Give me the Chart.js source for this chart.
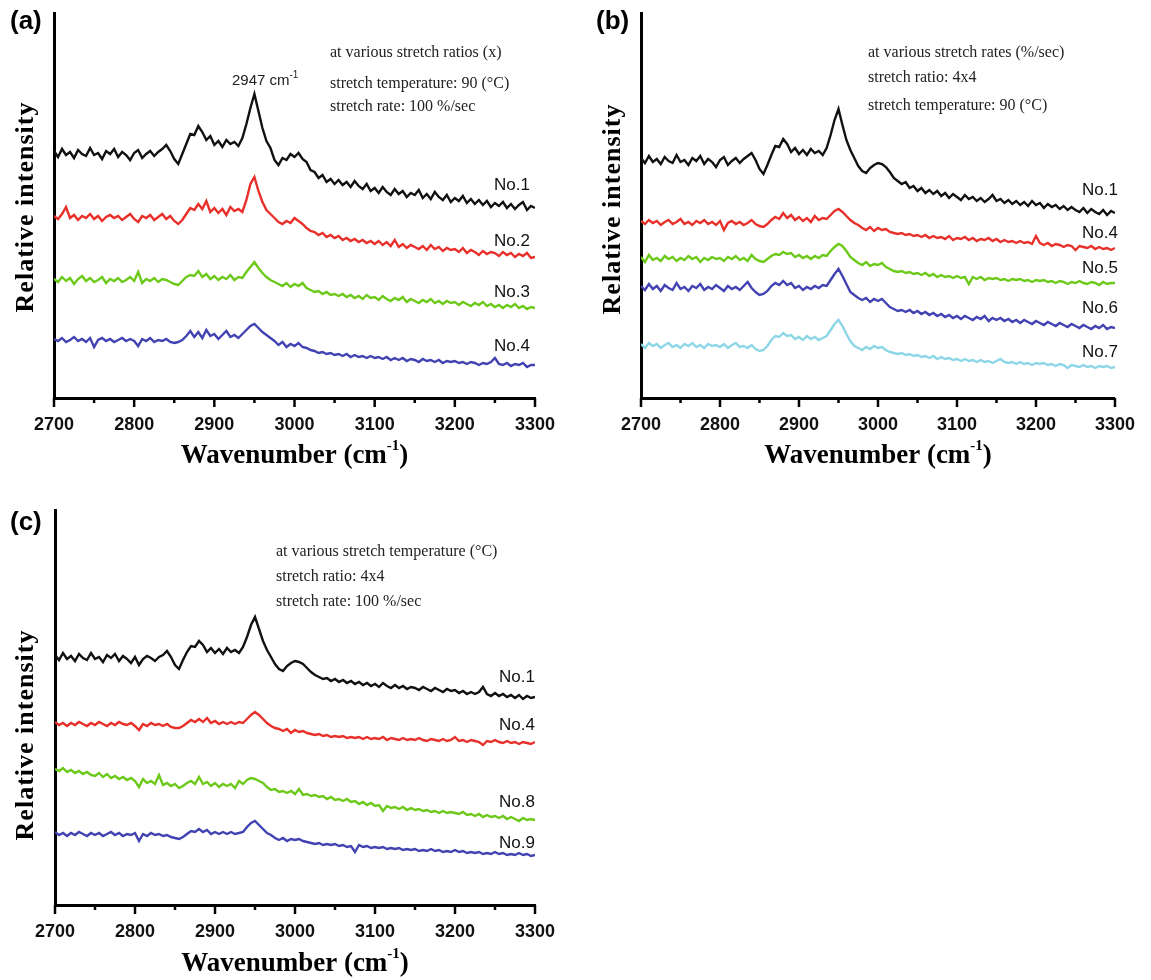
<!DOCTYPE html>
<html>
<head>
<meta charset="utf-8">
<title>Raman spectra at various stretch conditions</title>
<script src="https://cdn.jsdelivr.net/npm/chart.js@4.4.1/dist/chart.umd.min.js"></script>
<style>
  body { margin: 0; background: #fff; }
  .wrap { position: relative; width: 1151px; height: 980px; }
  canvas { position: absolute; }
  #chartA { left: 0; top: 0; }
  #chartB { left: 580px; top: 0; }
  #chartC { left: 0; top: 490px; }
</style>
</head>
<body>
<div class="wrap">
  <canvas id="chartA" width="575" height="480"></canvas>
  <canvas id="chartB" width="571" height="480"></canvas>
  <canvas id="chartC" width="575" height="490"></canvas>
</div>
<script>
// wavenumber grid (cm-1)
const wavenumbers = [
  2700,2705,2710,2715,2720,2725,2730,2735,2740,2745,
  2750,2755,2760,2765,2770,2775,2780,2785,2790,2795,
  2800,2805,2810,2815,2820,2825,2830,2835,2840,2845,
  2850,2855,2860,2865,2870,2875,2880,2885,2890,2895,
  2900,2905,2910,2915,2920,2925,2930,2935,2940,2945,
  2950,2955,2960,2965,2970,2975,2980,2985,2990,2995,
  3000,3005,3010,3015,3020,3025,3030,3035,3040,3045,
  3050,3055,3060,3065,3070,3075,3080,3085,3090,3095,
  3100,3105,3110,3115,3120,3125,3130,3135,3140,3145,
  3150,3155,3160,3165,3170,3175,3180,3185,3190,3195,
  3200,3205,3210,3215,3220,3225,3230,3235,3240,3245,
  3250,3255,3260,3265,3270,3275,3280,3285,3290,3295,
  3300
];
const xTicks = { min: 2700, max: 3300, step: 50 };

// (a) various stretch ratios, offset intensities
const aNo1 = [
  247,241,249,243,246,240,248,244,242,250, 243,245,239,247,244,249,241,246,243,238,
  245,248,240,244,247,242,246,249,253,247, 239,234,244,254,264,263,272,266,258,262,
  253,257,251,258,254,256,252,260,274,290, 304,287,270,257,250,238,233,240,238,244,
  241,245,239,236,228,226,220,223,216,219, 214,218,213,216,211,217,212,209,214,207,
  210,205,211,206,203,209,204,207,201,205, 203,208,200,204,199,206,201,198,203,196,
  200,197,202,195,199,194,198,193,197,191, 195,192,196,190,194,189,193,196,188,192,
  190];
const aNo2 = [
  182,179,184,191,180,183,178,182,180,184, 179,182,177,181,183,180,182,178,181,184,
  179,176,182,180,183,178,181,184,179,182, 177,174,178,184,190,188,194,189,197,186,
  190,185,189,183,191,187,189,186,198,214, 221,207,196,188,184,180,176,174,177,175,
  180,177,174,170,167,166,163,165,161,163, 160,162,158,160,157,159,156,158,155,157,
  154,157,153,156,152,158,151,154,150,153, 151,149,152,148,153,149,151,147,150,148,
  149,146,150,145,148,146,143,147,144,146, 145,142,146,143,145,141,144,142,145,140,
  141];
const aNo3 = [
  119,116,121,117,120,114,119,122,117,120, 116,118,121,115,119,117,120,116,118,121,
  117,126,115,119,117,120,116,119,118,116, 114,113,117,121,123,122,127,121,124,119,
  122,118,121,119,123,118,121,120,126,131, 136,130,125,121,118,116,114,112,115,111,
  114,112,115,110,108,106,107,104,106,103, 104,102,104,101,103,100,102,99,103,100,
  101,98,102,99,97,100,98,101,96,99, 97,95,98,96,99,95,97,94,97,95,
  96,93,96,94,92,95,93,96,92,94, 91,93,90,93,91,94,90,92,89,91,
  90];
const aNo4 = [
  59,57,60,56,58,61,57,59,56,60, 51,58,60,57,59,56,58,60,57,59,
  57,52,59,57,60,56,58,57,59,56, 55,56,58,62,67,61,66,60,68,62,
  64,59,63,67,61,63,60,64,68,72, 74,70,66,63,60,57,53,56,51,54,
  52,55,51,50,48,47,45,46,44,45, 43,44,42,44,41,43,41,42,40,42,
  40,41,39,41,38,40,38,40,37,39, 38,36,39,37,38,36,38,35,37,36,
  37,35,36,34,36,35,33,35,34,36, 40,34,33,35,32,34,33,35,31,33,
  33];

// (b) various stretch rates
const bNo1 = [
  240,235,242,236,239,234,241,237,235,243, 236,238,233,240,237,242,234,239,236,231,
  238,241,233,237,240,235,239,242,245,238, 229,224,233,243,252,251,259,254,246,250,
  244,248,243,249,245,247,243,250,263,278, 289,273,258,248,240,232,227,225,230,233,
  235,234,231,226,220,217,214,216,210,212, 207,210,205,208,204,207,202,205,200,204,
  201,198,203,199,201,197,200,196,199,203, 197,199,195,198,194,197,193,196,192,197,
  193,195,190,194,191,193,189,192,188,191, 188,186,190,185,189,186,184,188,183,187,
  185];
const bNo4 = [
  177,174,178,175,177,173,176,178,174,176, 179,174,176,173,177,175,178,174,176,173,
  177,168,175,177,174,176,173,175,178,174, 172,171,174,178,181,179,185,180,183,178,
  181,177,180,176,182,178,180,179,183,187, 189,186,182,178,175,173,170,168,171,167,
  170,168,169,166,165,164,165,163,164,162, 163,161,163,160,162,160,161,159,162,158,
  160,159,161,158,160,157,159,158,160,157, 159,156,158,156,157,155,157,155,156,154,
  162,155,153,155,152,154,153,151,153,152, 148,152,151,150,152,149,151,149,150,148,
  150];
const bNo5 = [
  141,136,143,138,140,137,142,139,141,137, 140,138,142,139,141,136,140,138,141,139,
  140,137,141,139,142,138,140,137,143,139, 137,136,139,142,144,143,146,144,145,141,
  143,140,142,139,142,140,143,142,147,151, 154,152,147,141,138,135,133,136,132,134,
  133,135,131,129,127,126,127,125,126,124, 125,123,125,122,124,121,123,121,122,120,
  122,120,121,114,121,119,121,118,120,119, 120,118,119,117,119,118,119,117,118,116,
  118,117,118,116,117,115,117,116,114,116, 115,117,115,114,116,115,113,116,114,115,
  115];
const bNo6 = [
  112,108,114,109,112,107,113,110,108,115, 109,111,107,112,110,114,108,111,109,113,
  110,107,112,109,111,108,112,116,110,106, 103,104,107,112,115,113,117,113,115,110,
  112,108,111,109,112,110,113,112,118,124, 129,122,114,106,103,100,98,100,96,99,
  97,99,95,91,89,87,88,86,88,85, 87,84,86,83,85,82,84,81,83,80,
  82,79,82,80,78,81,79,82,77,80, 78,80,77,79,76,78,75,78,76,74,
  77,75,73,76,74,72,75,73,71,74, 72,70,73,71,69,72,70,73,69,71,
  70];
const bNo7 = [
  54,50,55,52,54,50,53,55,51,53, 50,54,52,55,51,53,50,54,52,53,
  51,54,50,53,55,51,52,50,53,49, 47,48,52,58,62,61,65,62,63,59,
  61,58,62,59,61,58,60,62,68,74, 78,72,64,57,52,50,48,51,49,52,
  50,51,48,46,45,44,45,43,44,42, 43,41,42,40,42,39,41,39,40,38,
  39,37,39,37,38,36,38,36,37,35, 37,39,36,35,36,34,36,34,35,33,
  35,34,35,33,34,32,34,33,30,33, 32,31,33,31,32,30,32,31,32,30,
  31];

// (c) various stretch temperatures
const cNo1 = [
  250,245,252,246,249,244,251,247,245,252, 246,248,243,250,247,251,244,249,246,242,
  248,240,246,249,247,244,248,250,254,248, 240,236,245,253,259,258,264,260,253,257,
  252,256,251,257,253,255,252,258,268,280, 288,276,264,255,248,241,236,234,239,242,
  244,243,241,237,233,230,228,226,227,224, 226,223,225,222,224,221,223,220,222,219,
  221,218,222,219,217,220,217,219,216,218, 217,215,218,216,214,217,215,213,216,214,
  215,212,214,211,213,211,213,218,211,209, 212,209,211,208,210,207,210,206,209,207,
  208];
const cNo4 = [
  183,180,182,179,182,180,183,181,179,182, 180,183,181,179,182,180,183,181,180,182,
  179,175,181,179,182,180,181,179,181,178, 177,177,179,182,185,183,186,183,187,182,
  184,181,183,181,183,181,183,182,186,190, 193,190,186,182,179,177,176,174,176,172,
  175,173,174,172,171,170,171,169,170,168, 169,168,169,167,168,167,168,166,168,166,
  167,166,168,165,167,166,165,167,165,166, 165,167,165,164,166,165,164,166,164,165,
  168,164,165,163,165,164,163,160,164,163, 165,163,162,164,162,163,161,163,162,161,
  163];
const cNo8 = [
  136,134,137,133,135,132,134,131,133,130, 129,132,128,131,127,129,126,128,125,127,
  124,118,126,122,124,121,130,120,122,119, 121,117,119,122,124,121,128,121,123,119,
  122,118,121,119,121,117,124,121,125,127, 126,124,122,118,115,116,113,114,112,114,
  111,116,110,111,109,110,108,109,106,108, 105,106,104,106,103,104,101,103,100,102,
  99,100,94,99,97,98,96,98,95,97, 95,96,94,95,93,94,92,94,92,93,
  92,91,93,90,91,89,91,88,90,88, 89,87,89,86,88,86,84,87,85,86,
  85];
const cNo9 = [
  73,70,72,69,72,70,73,71,69,72, 70,72,69,71,73,70,72,69,71,70,
  72,64,71,69,72,70,71,69,70,68, 67,66,68,71,74,73,76,73,75,71,
  73,71,73,71,73,71,72,73,78,82, 84,80,76,72,70,67,65,67,64,66,
  65,66,64,63,62,61,62,60,61,60, 61,59,60,58,59,53,60,58,59,57,
  58,57,58,56,57,56,57,55,56,55, 56,54,55,54,56,54,55,53,54,53,
  55,53,54,52,53,52,53,51,52,51, 53,51,52,50,51,50,52,50,51,49,
  50];

const SANS = '"Liberation Sans", Arial, sans-serif';
const SERIF = '"Liberation Serif", "Times New Roman", serif';
const COLORS = {
  black: '#111111',
  red: '#e8302a',
  green: '#6cc91a',
  blue: '#4242b2',
  cyan: '#8dd6e7'
};

// draws ticks, panel letter, axis titles, notes and curve names
const panelText = {
  id: 'panelText',
  afterDraw(chart, args, o) {
    const ctx = chart.ctx;
    const area = chart.chartArea;
    const xs = chart.scales.x;
    ctx.save();

    // major / minor tick marks on the library's tick values
    ctx.strokeStyle = '#000';
    ctx.lineWidth = 2.5;
    xs.ticks.forEach(t => {
      const px = xs.getPixelForValue(t.value);
      const len = t.value % 100 === 0 ? 9 : 5;
      ctx.beginPath();
      ctx.moveTo(px, area.bottom);
      ctx.lineTo(px, area.bottom + len);
      ctx.stroke();
    });

    ctx.fillStyle = '#000';
    ctx.textBaseline = 'middle';

    ctx.font = 'bold 26px ' + SANS;
    ctx.textAlign = 'left';
    ctx.fillText(o.letter, o.letterX, o.letterY);

    // y title
    ctx.save();
    ctx.translate(o.yTitleX, o.yTitleY);
    ctx.rotate(-Math.PI / 2);
    ctx.font = 'bold 26px ' + SERIF;
    ctx.letterSpacing = '1px';
    ctx.textAlign = 'center';
    ctx.fillText('Relative intensity', 0, 0);
    ctx.restore();

    // x title with superscript
    const cx = (area.left + area.right) / 2;
    const main = 'bold 27px ' + SERIF;
    const sup = 'bold 15px ' + SERIF;
    ctx.font = main;
    const w1 = ctx.measureText('Wavenumber (cm').width;
    const w3 = ctx.measureText(')').width;
    ctx.font = sup;
    const w2 = ctx.measureText('-1').width;
    let x0 = cx - (w1 + w2 + w3) / 2;
    ctx.textAlign = 'left';
    ctx.font = main;
    ctx.fillText('Wavenumber (cm', x0, o.xTitleY);
    ctx.font = sup;
    ctx.fillText('-1', x0 + w1, o.xTitleY - 10);
    ctx.font = main;
    ctx.fillText(')', x0 + w1 + w2, o.xTitleY);

    // condition notes
    ctx.fillStyle = '#222';
    ctx.font = '16px ' + SERIF;
    o.notes.forEach(n => ctx.fillText(n.text, n.x, n.y));

    // peak annotation
    if (o.peak) {
      ctx.font = '15px ' + SANS;
      const pw = ctx.measureText(o.peak.text).width;
      ctx.fillText(o.peak.text, o.peak.x, o.peak.y);
      ctx.font = '10px ' + SANS;
      ctx.fillText('-1', o.peak.x + pw, o.peak.y - 6);
    }

    // curve names
    ctx.fillStyle = '#111';
    ctx.font = '17px ' + SANS;
    ctx.textAlign = 'right';
    o.tags.forEach(t => ctx.fillText(t.text, t.x, t.y));

    ctx.restore();
  }
};

function spectrumChart(id, series, yMax, pad, yAxisWidth, xAxisHeight, text) {
  return new Chart(document.getElementById(id), {
    type: 'line',
    data: {
      datasets: series.map(s => ({
        label: s.name,
        data: s.values.map((v, i) => ({ x: wavenumbers[i], y: v })),
        borderColor: s.color,
        borderWidth: 2.4,
        pointRadius: 0,
        tension: 0,
        fill: false
      }))
    },
    options: {
      responsive: false,
      animation: false,
      events: [],
      layout: { padding: pad },
      plugins: {
        legend: { display: false },
        tooltip: { enabled: false },
        panelText: text
      },
      scales: {
        x: {
          type: 'linear',
          min: xTicks.min,
          max: xTicks.max,
          afterFit: s => { s.height = xAxisHeight; },
          grid: { display: false, drawTicks: false },
          border: { display: true, color: '#000', width: 3 },
          ticks: {
            stepSize: xTicks.step,
            autoSkip: false,
            maxRotation: 0,
            padding: 16,
            color: '#111',
            font: { family: SANS, size: 18, weight: 'bold' },
            callback: v => (v % 100 === 0 ? String(v) : '')
          }
        },
        y: {
          type: 'linear',
          min: 0,
          max: yMax,
          afterFit: s => { s.width = yAxisWidth; },
          grid: { display: false, drawTicks: false },
          ticks: { display: false },
          border: { display: true, color: '#000', width: 3 }
        }
      }
    },
    plugins: [panelText]
  });
}

spectrumChart('chartA', [
  { name: 'No.1', values: aNo1, color: COLORS.black },
  { name: 'No.2', values: aNo2, color: COLORS.red },
  { name: 'No.3', values: aNo3, color: COLORS.green },
  { name: 'No.4', values: aNo4, color: COLORS.blue }
], 385, { top: 13, right: 40, left: 0, bottom: 0 }, 54, 82, {
  letter: '(a)', letterX: 10, letterY: 22,
  yTitleX: 26, yTitleY: 207, xTitleY: 456,
  notes: [
    { text: 'at various stretch ratios (x)', x: 330, y: 53 },
    { text: 'stretch temperature: 90 (°C)', x: 330, y: 84 },
    { text: 'stretch rate: 100 %/sec', x: 330, y: 107 }
  ],
  peak: { text: '2947 cm', x: 232, y: 81 },
  tags: [
    { text: 'No.1', x: 530, y: 185 },
    { text: 'No.2', x: 530, y: 241 },
    { text: 'No.3', x: 530, y: 292 },
    { text: 'No.4', x: 530, y: 346 }
  ]
});

spectrumChart('chartB', [
  { name: 'No.1', values: bNo1, color: COLORS.black },
  { name: 'No.4', values: bNo4, color: COLORS.red },
  { name: 'No.5', values: bNo5, color: COLORS.green },
  { name: 'No.6', values: bNo6, color: COLORS.blue },
  { name: 'No.7', values: bNo7, color: COLORS.cyan }
], 385, { top: 13, right: 26, left: 0, bottom: 0 }, 61, 82, {
  letter: '(b)', letterX: 16, letterY: 22,
  yTitleX: 33, yTitleY: 209, xTitleY: 456,
  notes: [
    { text: 'at various stretch rates (%/sec)', x: 288, y: 53 },
    { text: 'stretch ratio: 4x4', x: 288, y: 78 },
    { text: 'stretch temperature: 90 (°C)', x: 288, y: 106 }
  ],
  tags: [
    { text: 'No.1', x: 538, y: 190 },
    { text: 'No.4', x: 538, y: 233 },
    { text: 'No.5', x: 538, y: 268 },
    { text: 'No.6', x: 538, y: 308 },
    { text: 'No.7', x: 538, y: 352 }
  ]
});

spectrumChart('chartC', [
  { name: 'No.1', values: cNo1, color: COLORS.black },
  { name: 'No.4', values: cNo4, color: COLORS.red },
  { name: 'No.8', values: cNo8, color: COLORS.green },
  { name: 'No.9', values: cNo9, color: COLORS.blue }
], 395, { top: 20, right: 40, left: 0, bottom: 0 }, 55, 75, {
  letter: '(c)', letterX: 10, letterY: 33,
  yTitleX: 26, yTitleY: 245, xTitleY: 474,
  notes: [
    { text: 'at various stretch temperature (°C)', x: 276, y: 62 },
    { text: 'stretch ratio: 4x4', x: 276, y: 87 },
    { text: 'stretch rate: 100 %/sec', x: 276, y: 112 }
  ],
  tags: [
    { text: 'No.1', x: 535, y: 187 },
    { text: 'No.4', x: 535, y: 235 },
    { text: 'No.8', x: 535, y: 312 },
    { text: 'No.9', x: 535, y: 353 }
  ]
});
</script>
</body>
</html>
